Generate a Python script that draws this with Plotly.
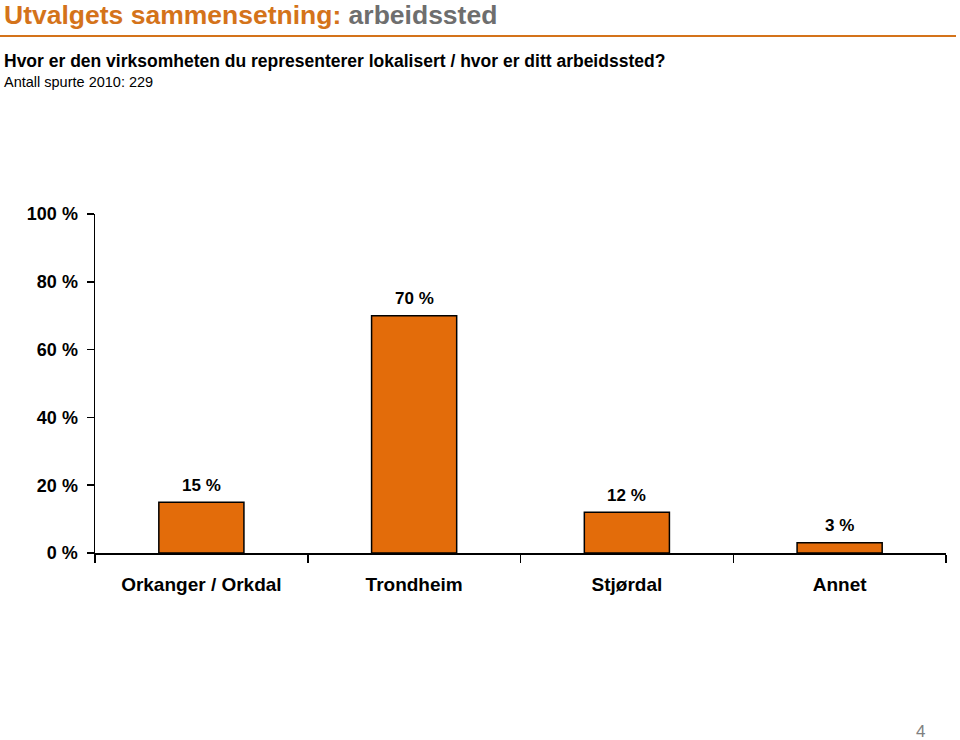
import plotly.graph_objects as go

categories = ["Orkanger / Orkdal", "Trondheim", "Stjørdal", "Annet"]
values = [15, 70, 12, 3]
value_labels = ["15 %", "70 %", "12 %", "3 %"]
y_ticks = [0, 20, 40, 60, 80, 100]
y_tick_labels = ["0 %", "20 %", "40 %", "60 %", "80 %", "100 %"]

W, H = 960, 740
L, R, T, B = 95, 14, 214, 187
PW, PH = W - L - R, H - T - B

def px(x):
    return (x - L) / PW

def py(y):
    return (H - B - y) / PH

FONT = "Arial, Liberation Sans, sans-serif"
ORANGE = "#E36C0A"

fig = go.Figure()
fig.add_trace(go.Bar(
    x=categories, y=values,
    marker=dict(color=ORANGE, line=dict(color="black", width=1.5)),
    width=0.4, hoverinfo="skip",
))

for c, v, t in zip(categories, values, value_labels):
    fig.add_annotation(x=c, y=v, xref="x", yref="y", text=f"<b>{t}</b>", showarrow=False,
                       yshift=17, yanchor="middle",
                       font=dict(family=FONT, size=17, color="black"))

fig.add_annotation(xref="paper", yref="paper", x=px(2), y=py(15), xanchor="left", yanchor="middle",
                   text="<b><span style='color:#D4731A'>Utvalgets sammensetning:</span> "
                        "<span style='color:#6E6E6E'>arbeidssted</span></b>",
                   showarrow=False, font=dict(family=FONT, size=26.5))
fig.add_annotation(xref="paper", yref="paper", x=px(2), y=py(61), xanchor="left", yanchor="middle",
                   text="<b>Hvor er den virksomheten du representerer lokalisert / hvor er ditt arbeidssted?</b>",
                   showarrow=False, font=dict(family=FONT, size=17.5, color="black"))
fig.add_annotation(xref="paper", yref="paper", x=px(2), y=py(82), xanchor="left", yanchor="middle",
                   text="Antall spurte 2010: 229",
                   showarrow=False, font=dict(family=FONT, size=14.5, color="black"))
fig.add_annotation(xref="paper", yref="paper", x=px(920), y=py(731), xanchor="center", yanchor="middle",
                   text="4", showarrow=False, font=dict(family=FONT, size=17, color="#808080"))
fig.add_shape(type="line", xref="paper", yref="paper", x0=px(0), x1=px(956), y0=py(36), y1=py(36),
              line=dict(color="#D4731A", width=2))

fig.update_layout(
    width=W, height=H,
    margin=dict(l=L, r=R, t=T, b=B, pad=0),
    paper_bgcolor="white", plot_bgcolor="white",
    showlegend=False,
    xaxis=dict(type="category", showline=True, linecolor="black", linewidth=1.5,
               ticks="outside", tickson="boundaries", ticklen=8, tickwidth=1.5, tickcolor="black",
               tickfont=dict(family=FONT, size=19, color="black", weight="bold"),
               ticklabelstandoff=14, showgrid=False, zeroline=False,
               range=[-0.5, 3.5]),
    yaxis=dict(range=[0, 100], tickvals=y_ticks, ticktext=y_tick_labels,
               showline=True, linecolor="black", linewidth=1.5,
               ticks="outside", ticklen=7, tickwidth=1.5, tickcolor="black",
               tickfont=dict(family=FONT, size=18, color="black", weight="bold"),
               ticklabelstandoff=5, showgrid=False, zeroline=False),
)

fig.write_html("out.html", config={"displayModeBar": False, "staticPlot": True},
               post_script="document.body.style.margin='0';document.body.style.overflow='hidden';")
